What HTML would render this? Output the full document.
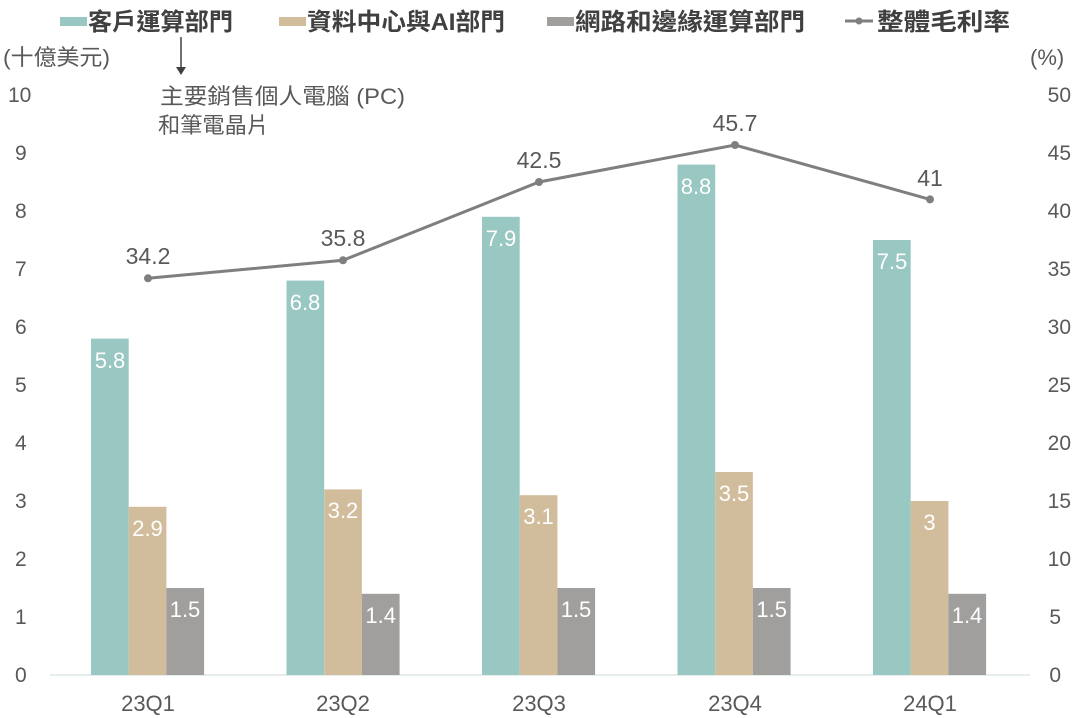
<!DOCTYPE html>
<html><head><meta charset="utf-8"><style>
html,body{margin:0;padding:0;background:#fff;}
svg{display:block;font-family:"Liberation Sans","Noto Sans CJK TC",sans-serif;}
</style></head><body>
<svg width="1077" height="718" viewBox="0 0 1077 718" xmlns="http://www.w3.org/2000/svg">
<g font-size="24" font-weight="bold" fill="#404040">
<rect x="60" y="17" width="27" height="9" fill="#99c7c2"/><text x="88" y="30" textLength="145" lengthAdjust="spacingAndGlyphs">客戶運算部門</text>
<rect x="279" y="17" width="27" height="9" fill="#d1bd9c"/><text x="307" y="30" textLength="198" lengthAdjust="spacingAndGlyphs">資料中心與AI部門</text>
<rect x="547" y="17" width="27" height="9" fill="#a09f9d"/><text x="575" y="30" textLength="230" lengthAdjust="spacingAndGlyphs">網路和邊緣運算部門</text>
<line x1="845" y1="21" x2="873" y2="21" stroke="#7f7f7f" stroke-width="3"/><circle cx="859" cy="21" r="3.5" fill="#7f7f7f"/><text x="877" y="30" textLength="133" lengthAdjust="spacingAndGlyphs">整體毛利率</text>
</g>
<line x1="181" y1="37" x2="181" y2="68" stroke="#404040" stroke-width="1.5"/>
<polygon points="176,67 186,67 181,75" fill="#404040"/>
<g font-size="22" fill="#595959">
<text x="160" y="104" textLength="245" lengthAdjust="spacingAndGlyphs">主要銷售個人電腦 (PC)</text>
<text x="158" y="133" textLength="111" lengthAdjust="spacingAndGlyphs">和筆電晶片</text>
<text x="3" y="65" textLength="107" lengthAdjust="spacingAndGlyphs">(十億美元)</text>
<text x="1030" y="65">(%)</text>
</g>
<g font-size="21" fill="#595959">
<text x="8" y="102">10</text>
<text x="15" y="160">9</text><text x="15" y="218">8</text><text x="15" y="276">7</text><text x="15" y="334">6</text>
<text x="15" y="392">5</text><text x="15" y="450">4</text><text x="15" y="508">3</text><text x="15" y="566">2</text>
<text x="15" y="624">1</text><text x="15" y="682">0</text>
</g>
<g font-size="21" fill="#595959" text-anchor="end">
<text x="1071" y="102">50</text><text x="1071" y="160">45</text><text x="1071" y="218">40</text><text x="1071" y="276">35</text>
<text x="1071" y="334">30</text><text x="1071" y="392">25</text><text x="1071" y="450">20</text><text x="1071" y="508">15</text>
<text x="1071" y="566">10</text><text x="1061" y="624">5</text><text x="1061" y="682">0</text>
</g>
<line x1="50" y1="675" x2="1030" y2="675" stroke="#dde9e7" stroke-width="1.5"/>
<g>
<rect x="91" y="338.6" width="37.7" height="336.4" fill="#99c7c2"/>
<rect x="128.7" y="506.8" width="37.7" height="168.2" fill="#d1bd9c"/>
<rect x="166.4" y="588" width="37.7" height="87" fill="#a09f9d"/>
<rect x="286.5" y="280.6" width="37.7" height="394.4" fill="#99c7c2"/>
<rect x="324.2" y="489.4" width="37.7" height="185.6" fill="#d1bd9c"/>
<rect x="361.9" y="593.8" width="37.7" height="81.2" fill="#a09f9d"/>
<rect x="482" y="216.8" width="37.7" height="458.2" fill="#99c7c2"/>
<rect x="519.7" y="495.2" width="37.7" height="179.8" fill="#d1bd9c"/>
<rect x="557.4" y="588" width="37.7" height="87" fill="#a09f9d"/>
<rect x="677.5" y="164.6" width="37.7" height="510.4" fill="#99c7c2"/>
<rect x="715.2" y="472" width="37.7" height="203" fill="#d1bd9c"/>
<rect x="752.9" y="588" width="37.7" height="87" fill="#a09f9d"/>
<rect x="873" y="240" width="37.7" height="435" fill="#99c7c2"/>
<rect x="910.7" y="501" width="37.7" height="174" fill="#d1bd9c"/>
<rect x="948.4" y="593.8" width="37.7" height="81.2" fill="#a09f9d"/>
</g>
<g font-size="22" fill="#fff" text-anchor="middle">
<text x="110" y="368">5.8</text><text x="147.5" y="536">2.9</text><text x="185" y="617">1.5</text>
<text x="305" y="310">6.8</text><text x="343" y="518">3.2</text><text x="380.7" y="623">1.4</text>
<text x="501" y="246">7.9</text><text x="538.5" y="524">3.1</text><text x="576" y="617">1.5</text>
<text x="696" y="194">8.8</text><text x="734" y="501">3.5</text><text x="771.7" y="617">1.5</text>
<text x="892" y="269">7.5</text><text x="929.5" y="530">3</text><text x="967" y="623">1.4</text>
</g>
<polyline points="148,278.3 343,260.3 539,182 735,145 930,199.4" fill="none" stroke="#7f7f7f" stroke-width="3"/>
<g fill="#7f7f7f"><circle cx="148" cy="278.3" r="4"/><circle cx="343" cy="260.3" r="4"/><circle cx="539" cy="182" r="4"/><circle cx="735" cy="145" r="4"/><circle cx="930" cy="199.4" r="4"/></g>
<g font-size="23" fill="#595959" text-anchor="middle">
<text x="148" y="264">34.2</text><text x="343" y="246">35.8</text><text x="539" y="168">42.5</text><text x="735" y="131">45.7</text><text x="930" y="186">41</text>
</g>
<g font-size="22" fill="#595959" text-anchor="middle">
<text x="148" y="711">23Q1</text><text x="343" y="711">23Q2</text><text x="539" y="711">23Q3</text><text x="735" y="711">23Q4</text><text x="930" y="711">24Q1</text>
</g>
</svg>
</body></html>
